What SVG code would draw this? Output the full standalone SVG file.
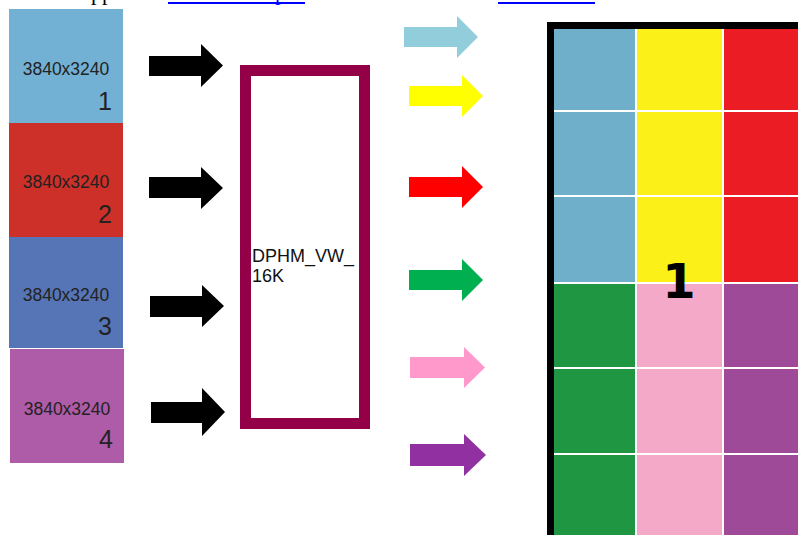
<svg xmlns="http://www.w3.org/2000/svg" width="798" height="535" viewBox="0 0 798 535">
<style>
.lbl{font-family:"Liberation Sans",Arial,sans-serif;font-size:17.5px;fill:#222;text-anchor:middle}
.num{font-family:"Liberation Sans",Arial,sans-serif;font-size:25px;fill:#222;text-anchor:end}
.dp{font-family:"Liberation Sans",Arial,sans-serif;font-size:18px;fill:#111}
.big{font-family:"DejaVu Sans",sans-serif;font-weight:bold;font-size:48px;fill:#000;text-anchor:middle}
.top{font-family:"Liberation Serif","Times New Roman",serif;font-size:22px;fill:#000}
.blk{fill:#000}
</style>
<rect width="798" height="535" fill="#fff"/>
<g id="top-fragment">
<text class="top" x="91" y="0">pp</text>
<text class="top" x="275" y="0" fill="#0000ff" style="fill:#0000ff">p</text>
<rect x="168" y="2" width="137" height="2" fill="#0000ff"/>
<rect x="498" y="2" width="97" height="2" fill="#0000ff"/>
</g>
<g id="input1">
<rect x="9" y="9" width="114" height="114" fill="#72b1d4"/>
<text class="lbl" x="66" y="75">3840x3240</text>
<text class="num" x="112" y="110">1</text>
</g>
<g id="input2">
<rect x="9" y="123" width="114" height="114" fill="#cd3029"/>
<text class="lbl" x="66" y="188">3840x3240</text>
<text class="num" x="112" y="223">2</text>
</g>
<g id="input3">
<rect x="9" y="237" width="114" height="111" fill="#5675b6"/>
<text class="lbl" x="66" y="301">3840x3240</text>
<text class="num" x="112" y="335">3</text>
</g>
<g id="input4">
<rect x="10" y="349" width="114" height="114" fill="#ae5ba8"/>
<text class="lbl" x="67" y="415">3840x3240</text>
<text class="num" x="113" y="448">4</text>
</g>
<g id="dphm">
<rect x="245.5" y="70.5" width="119" height="353" fill="#fff" stroke="#930048" stroke-width="11"/>
<text class="dp" x="252" y="262">DPHM_VW_</text>
<text class="dp" x="252" y="282">16K</text>
</g>
<g id="connectors">
<polygon class="blk" points="149,56 201,56 201,44 223,65.5 201,87 201,76 149,76"/>
<polygon class="blk" points="149,177 201,177 201,167 223,188 201,209 201,198 149,198"/>
<polygon class="blk" points="150,296 202,296 202,285 224,306 202,327 202,317 150,317"/>
<polygon class="blk" points="151,402 202,402 202,388 225,412 202,436 202,423 151,423"/>
<polygon fill="#92cddc" points="404,27 457,27 457,16 478,37 457,58 457,47 404,47"/>
<polygon fill="#ffff00" points="409,86 462,86 462,75 483,96 462,117 462,106 409,106"/>
<polygon fill="#ff0000" points="409,177 462,177 462,166 483,187 462,208 462,197 409,197"/>
<polygon fill="#00b050" points="409,270 462,270 462,259 483,280 462,301 462,290 409,290"/>
<polygon fill="#ff99cc" points="410,357 464,357 464,347 485,367.5 464,388 464,378 410,378"/>
<polygon fill="#9131a1" points="410,444 464,444 464,434 486,455 464,476 464,466 410,466"/>
</g>
<g id="output-grid">
<rect x="547" y="22" width="251" height="513" fill="#000"/>
<rect x="554" y="29" width="244" height="506" fill="#fff"/>
<rect x="554" y="29" width="81" height="81" fill="#6fafca"/>
<rect x="554" y="112" width="81" height="83" fill="#6fafca"/>
<rect x="554" y="197" width="81" height="85" fill="#6fafca"/>
<rect x="637" y="29" width="85" height="81" fill="#fbf017"/>
<rect x="637" y="112" width="85" height="83" fill="#fbf017"/>
<rect x="637" y="197" width="85" height="85" fill="#fbf017"/>
<rect x="724" y="29" width="74" height="81" fill="#ec1c24"/>
<rect x="724" y="112" width="74" height="83" fill="#ec1c24"/>
<rect x="724" y="197" width="74" height="85" fill="#ec1c24"/>
<rect x="554" y="284" width="81" height="83" fill="#1f9641"/>
<rect x="554" y="369" width="81" height="84" fill="#1f9641"/>
<rect x="554" y="455" width="81" height="80" fill="#1f9641"/>
<rect x="637" y="284" width="85" height="83" fill="#f4a9c8"/>
<rect x="637" y="369" width="85" height="84" fill="#f4a9c8"/>
<rect x="637" y="455" width="85" height="80" fill="#f4a9c8"/>
<rect x="724" y="284" width="74" height="83" fill="#9f4a99"/>
<rect x="724" y="369" width="74" height="84" fill="#9f4a99"/>
<rect x="724" y="455" width="74" height="80" fill="#9f4a99"/>
<text class="big" x="679" y="298">1</text>
</g>
</svg>
